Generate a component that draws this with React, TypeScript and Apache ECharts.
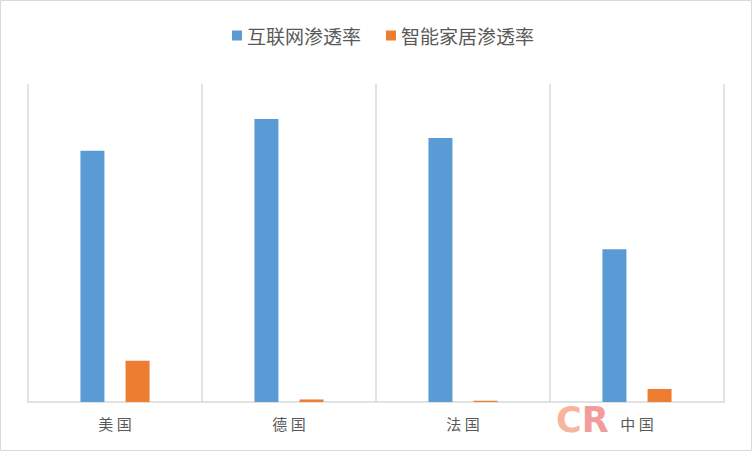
import React, { useEffect, useRef } from "react";
import * as echarts from "echarts";

const categories = ["美国", "德国", "法国", "中国"];
const seriesNames = ["互联网渗透率", "智能家居渗透率"];
const internetRate = [79, 89, 83, 48];
const smartHomeRate = [13, 0.8, 0.4, 4.1];

export default function App() {
  const ref = useRef<HTMLDivElement>(null);
  useEffect(() => {
    if (!ref.current) return;
    const chart = echarts.init(ref.current, null, { renderer: "svg" });
    const font = "'Noto Sans CJK SC', 'Noto Sans', sans-serif";
    chart.setOption({
      animation: false,
      backgroundColor: "#ffffff",
      textStyle: { fontFamily: font },
      legend: {
        top: 21,
        left: 227,
        itemWidth: 10,
        itemHeight: 10,
        itemGap: 25,
        icon: "rect",
        textStyle: { fontSize: 19, color: "#595959", fontFamily: font },
        data: seriesNames,
      },
      grid: { left: 28, right: 28, top: 84, bottom: 49, containLabel: false },
      xAxis: {
        type: "category",
        data: categories,
        axisLine: { lineStyle: { color: "#d9d9d9", width: 1.5 } },
        axisTick: { show: false },
        splitLine: { show: true, lineStyle: { color: "#d9d9d9", width: 1.5 } },
        axisLabel: {
          color: "#595959",
          fontSize: 15,
          margin: 14,
          fontFamily: font,
          formatter: (v: string) => v.split("").join(" "),
        },
      },
      yAxis: {
        type: "value",
        min: 0,
        max: 100,
        show: false,
        splitLine: { show: false },
      },
      series: [
        {
          name: seriesNames[0],
          type: "bar",
          data: internetRate,
          barWidth: 24,
          barGap: "88%",
          itemStyle: { color: "#5b9bd5" },
        },
        {
          name: seriesNames[1],
          type: "bar",
          data: smartHomeRate,
          barWidth: 24,
          itemStyle: { color: "#ed7d31" },
        },
      ],
      graphic: [
        {
          type: "rect",
          shape: { x: 0.5, y: 0.5, width: 751, height: 450 },
          style: { fill: "none", stroke: "#d9d9d9", lineWidth: 1 },
          silent: true,
        },
        {
          type: "text",
          left: 556,
          top: 402,
          style: {
            text: "{c|C}{r|R}",
            rich: {
              c: { fill: "#f7b59b", font: "900 35px 'DejaVu Sans'" },
              r: { fill: "#f39c9c", font: "900 35px 'DejaVu Sans'" },
            },
          },
          silent: true,
        },
      ],
    });
    return () => chart.dispose();
  }, []);
  return (
    <div
      ref={ref}
      style={{ position: "fixed", left: 0, top: 0, width: 752, height: 451 }}
    />
  );
}
